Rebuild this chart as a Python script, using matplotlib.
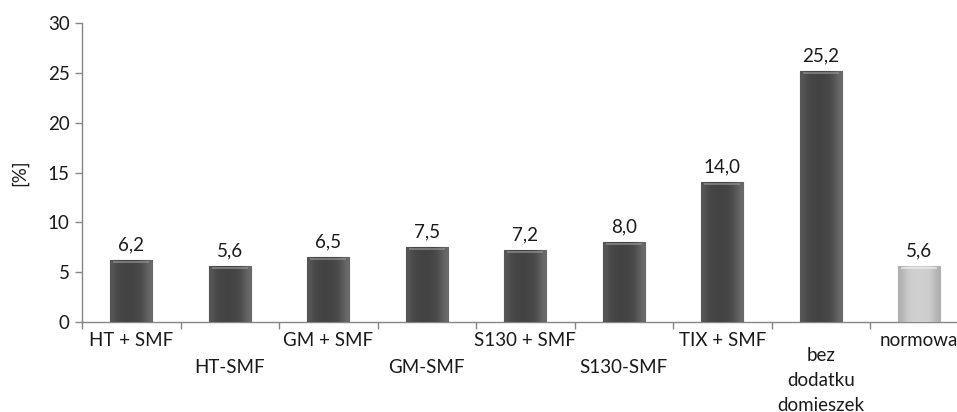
import matplotlib.pyplot as plt
import numpy as np
from matplotlib.transforms import blended_transform_factory

categories = ["HT + SMF", "HT-SMF", "GM + SMF", "GM-SMF", "S130 + SMF",
              "S130-SMF", "TIX + SMF", "bez\ndodatku\ndomieszek", "normowa"]
values = [6.2, 5.6, 6.5, 7.5, 7.2, 8.0, 14.0, 25.2, 5.6]
value_labels = ["6,2", "5,6", "6,5", "7,5", "7,2", "8,0", "14,0", "25,2", "5,6"]
yticks = [0, 5, 10, 15, 20, 25, 30]

plt.rcParams['font.family'] = ['Lato', 'DejaVu Sans']
fs = 13.5

W, H = 957, 412
fig = plt.figure(figsize=(W / 100, H / 100), dpi=100)
# axes runs past the right edge, as in the reference (last label is cut off)
left, bottom, top = 82, 322, 23
cat_w = 98.5
ax = fig.add_axes([left / W, (H - bottom) / H, 9 * cat_w / W, (bottom - top) / H])

x = np.arange(len(categories))
bar_w = 0.43
dark = np.array([[0.34, 0.28, 0.27, 0.26, 0.27, 0.28, 0.34, 0.42]])
light = np.array([[0.68, 0.79, 0.81, 0.81, 0.81, 0.79, 0.68]])

for i, (xi, v) in enumerate(zip(x, values)):
    is_norm = i == len(values) - 1
    bar = ax.bar(xi, v, width=bar_w, color="#c8c8c8" if is_norm else "#474747",
                 edgecolor="#a0a0a0" if is_norm else "#3a3a3a", linewidth=0.8,
                 zorder=2)[0]
    grad = light if is_norm else dark
    im = ax.imshow(grad, cmap="gray", vmin=0, vmax=1, aspect="auto",
                   extent=(xi - bar_w / 2, xi + bar_w / 2, 0, v), zorder=3,
                   interpolation="bicubic")
    im.set_clip_path(bar)
    # top highlight
    ax.bar(xi, 0.2, bottom=v - 0.3, width=bar_w * 0.85,
           color="#f2f2f2" if is_norm else "#9a9a9a", alpha=0.6, zorder=4,
           linewidth=0)
    ax.annotate(value_labels[i], (xi, v), xytext=(0, 5), textcoords="offset points",
                ha="center", va="bottom", fontsize=fs, color="#1a1a1a")

ax.set_xlim(-0.5, len(categories) - 0.5)
ax.set_ylim(0, 30)
ax.set_yticks(yticks)
ax.set_yticklabels([str(t) for t in yticks], fontsize=fs, color="#1a1a1a")
ax.set_ylabel("[%]", fontsize=fs, color="#1a1a1a", labelpad=14)

ax.set_xticks(np.arange(len(categories) + 1) - 0.5)
ax.set_xticklabels([])
ax.tick_params(axis="x", length=5, color="#868686", width=1)
ax.tick_params(axis="y", length=5, color="#868686", width=1, pad=4)

trans = blended_transform_factory(ax.transData, ax.transAxes)
for i, lab in enumerate(categories):
    if i % 2 == 0:
        y_off = -0.035
    else:
        y_off = -0.125 if "\n" not in lab else -0.085
    ax.text(i, y_off, lab, transform=trans, ha="center", va="top", fontsize=fs,
            color="#1a1a1a", linespacing=1.55)

for side in ["top", "right"]:
    ax.spines[side].set_visible(False)
for side in ["left", "bottom"]:
    ax.spines[side].set_color("#868686")
    ax.spines[side].set_linewidth(1)
ax.set_facecolor("none")

fig.savefig("out.png", dpi=100)
